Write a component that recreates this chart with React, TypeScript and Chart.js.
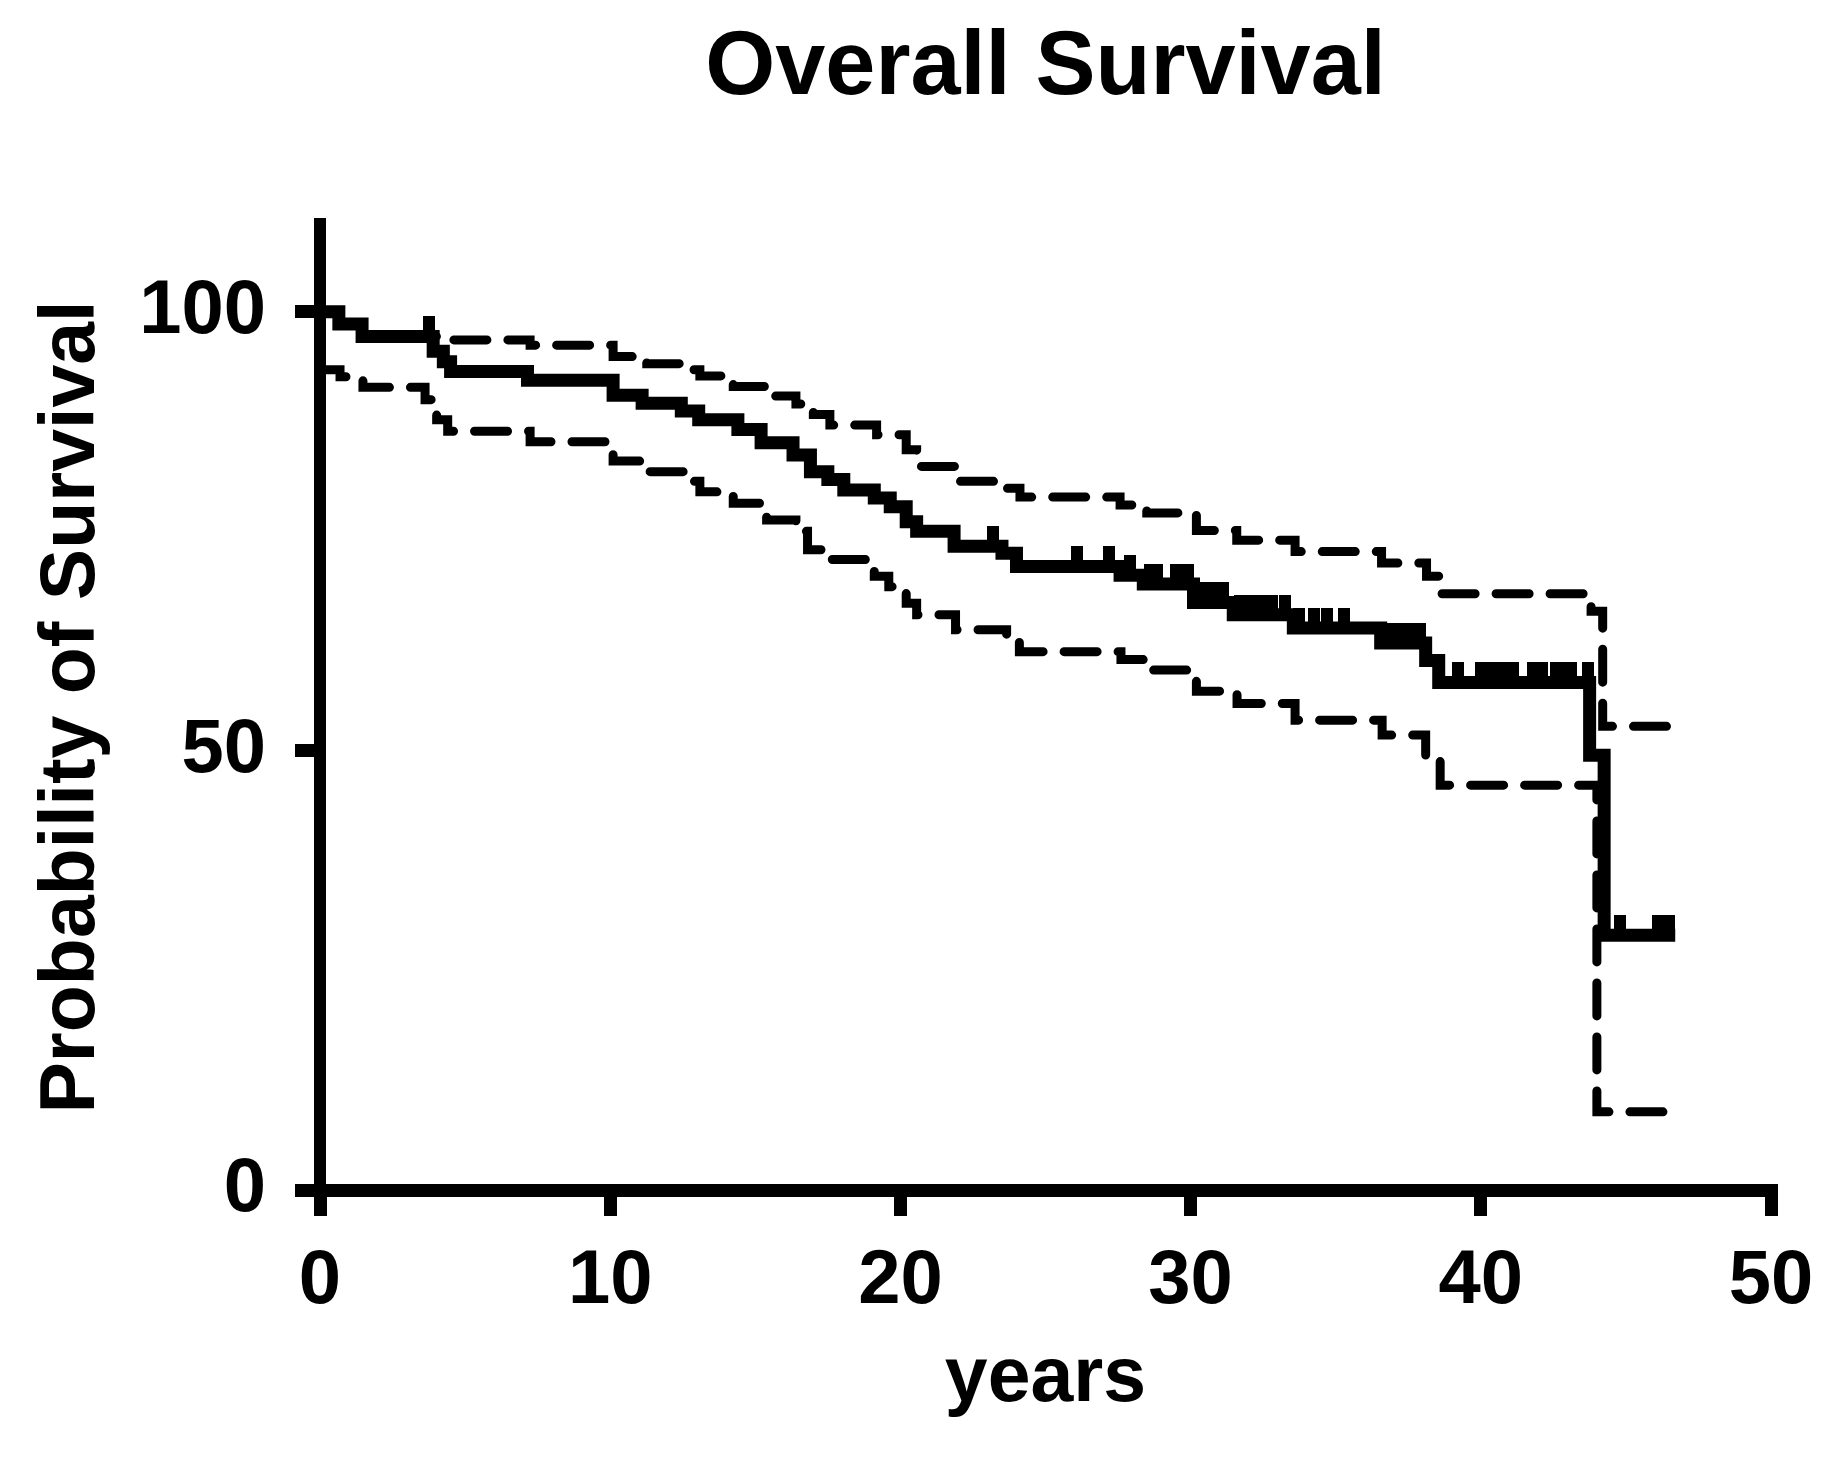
import React, { useEffect, useRef } from 'react';
import { Chart, registerables } from 'chart.js';

Chart.register(...registerables);

// ---- Data ----
const X_TICKS = [0, 10, 20, 30, 40, 50];
const Y_TICKS = [0, 50, 100];

// Kaplan-Meier estimate (time in years, survival in %)
const MAIN_T = [0, 0.65, 1.45, 3.9, 4.25, 4.5, 7.15, 10.1, 11.1, 12.45, 13.05, 14.4, 15.2, 16.3, 16.9, 17.5, 18.05, 19.1, 19.65, 20.2, 20.56, 21.85, 23.5, 24.0, 27.57, 28.37, 30.1, 31.47, 33.54, 36.55, 38.1, 38.55, 43.75, 44.25, 46.7];
const MAIN_S = [100, 98.6, 97.2, 95.5, 94.3, 93.2, 92.2, 90.5, 89.6, 88.7, 87.7, 86.6, 85.1, 83.7, 81.8, 80.9, 79.7, 78.8, 77.8, 76.1, 75.0, 73.3, 72.5, 71.0, 70.0, 69.0, 66.9, 65.5, 64.0, 62.3, 60.3, 57.8, 49.5, 29.0, 29.0];

// Upper 95% confidence limit
const UPPER_T = [0, 0.65, 1.45, 4.37, 7.24, 10.1, 11.26, 12.52, 13.09, 14.24, 15.39, 16.4, 17.0, 17.57, 19.18, 20.2, 20.56, 21.88, 23.66, 24.12, 27.57, 28.49, 30.2, 31.59, 33.6, 36.58, 38.13, 38.6, 43.8, 44.2, 46.7];
const UPPER_S = [100, 98.6, 97.2, 96.8, 96.2, 94.9, 94.1, 93.4, 92.7, 91.5, 90.4, 89.5, 88.3, 87.1, 86.0, 84.3, 82.4, 80.7, 79.9, 78.9, 78.0, 77.1, 75.1, 74.0, 72.7, 71.4, 69.9, 67.9, 65.9, 52.8, 52.8];

// Lower 95% confidence limit
const LOWER_T = [0, 0.69, 1.48, 3.62, 4.02, 4.4, 7.24, 10.1, 11.26, 12.52, 13.09, 14.24, 15.39, 16.4, 16.8, 17.6, 19.1, 19.6, 20.2, 20.56, 21.9, 23.66, 24.1, 27.6, 28.5, 30.2, 31.6, 33.6, 36.6, 38.1, 38.6, 44.0, 46.7];
const LOWER_S = [93.4, 92.6, 91.4, 90.0, 87.7, 86.4, 85.2, 83.0, 81.8, 80.7, 79.5, 78.2, 76.3, 75.0, 72.9, 71.8, 69.9, 68.7, 66.8, 65.5, 63.8, 62.6, 61.3, 60.4, 59.2, 56.8, 55.4, 53.5, 51.8, 49.0, 46.1, 8.9, 8.9];

// Censored observations (years)
const CENSOR_T = [3.75, 23.2, 26.1, 27.2, 27.9, 28.6, 28.85, 29.5, 29.9, 30.3, 30.7, 31.1, 31.7, 32.1, 32.5, 32.8, 33.25, 33.75, 34.25, 34.7, 35.3, 36.8, 37.2, 37.5, 37.9, 39.2, 40.0, 40.4, 40.8, 41.1, 41.8, 42.1, 42.6, 42.9, 43.1, 43.7, 44.8, 46.1, 46.5];

const FONT = "'Liberation Sans', Arial, Helvetica, sans-serif";

const toPoints = (T: number[], S: number[]) => T.map((t, i) => ({ x: t, y: S[i] }));
const stepValue = (t: number, T: number[], S: number[]) => {
  let v = S[0];
  for (let i = 0; i < T.length; i++) if (T[i] <= t) v = S[i];
  return v;
};

export default function App() {
  const ref = useRef<HTMLCanvasElement | null>(null);

  useEffect(() => {
    if (!ref.current) return;
    const tick = document.createElement('canvas');
    tick.width = 12;
    tick.height = 40;
    const tc = tick.getContext('2d');
    if (tc) {
      tc.fillStyle = '#000';
      tc.fillRect(0, 0, 12, 20);
    }

    const axisGrid = {
      display: true,
      drawOnChartArea: false,
      drawTicks: true,
      color: '#000',
      lineWidth: 13,
      tickWidth: 13,
      tickColor: '#000',
    };

    const ciStyle = {
      stepped: 'before',
      borderColor: '#000',
      borderWidth: 9,
      borderDash: [33, 21],
      borderCapStyle: 'round',
      borderJoinStyle: 'miter',
      pointRadius: 0,
      fill: false,
    };

    const chart = new Chart(ref.current, {
      type: 'line',
      data: {
        datasets: [
          {
            label: 'Overall survival',
            data: toPoints(MAIN_T, MAIN_S),
            stepped: 'before',
            borderColor: '#000',
            borderWidth: 13,
            borderJoinStyle: 'miter',
            borderCapStyle: 'butt',
            pointRadius: 0,
            fill: false,
          },
          { label: 'Upper 95% CI', data: toPoints(UPPER_T, UPPER_S), ...ciStyle },
          { label: 'Lower 95% CI', data: toPoints(LOWER_T, LOWER_S), ...ciStyle },
          {
            label: 'Censored',
            data: CENSOR_T.map((t) => ({ x: t, y: stepValue(t, MAIN_T, MAIN_S) })),
            showLine: false,
            pointStyle: tick,
            pointRadius: 10,
            pointHoverRadius: 10,
          },
        ],
      },
      options: {
        responsive: false,
        animation: false,
        devicePixelRatio: 1,
        events: [],
        layout: { padding: { top: 0, left: 0, right: 65, bottom: 0 } },
        plugins: {
          legend: { display: false },
          tooltip: { enabled: false },
          title: {
            display: true,
            text: 'Overall Survival',
            fullSize: false,
            color: '#000',
            font: { family: FONT, size: 90, weight: 'bold', lineHeight: 1.2 },
            padding: { top: 15, bottom: 101 },
          },
        },
        scales: {
          x: {
            type: 'linear',
            min: 0,
            max: 50,
            afterBuildTicks: (s: any) => {
              s.ticks = X_TICKS.map((v) => ({ value: v }));
            },
            afterFit: (s: any) => {
              s.height = 278;
            },
            grid: { ...axisGrid, tickLength: 26 },
            border: { display: true, width: 13, color: '#000' },
            ticks: {
              color: '#000',
              padding: 20,
              maxRotation: 0,
              font: { family: FONT, size: 76, weight: 'bold', lineHeight: 1.2 },
            },
            title: {
              display: true,
              text: 'years',
              color: '#000',
              font: { family: FONT, size: 77, weight: 'bold', lineHeight: 1.2 },
              padding: { top: 0, bottom: 42 },
            },
          },
          y: {
            type: 'linear',
            min: 0,
            max: 110,
            afterBuildTicks: (s: any) => {
              s.ticks = Y_TICKS.map((v) => ({ value: v }));
            },
            afterFit: (s: any) => {
              s.width = 320;
            },
            grid: { ...axisGrid, tickLength: 25 },
            border: { display: true, width: 12, color: '#000' },
            ticks: {
              color: '#000',
              padding: 29,
              font: { family: FONT, size: 76, weight: 'bold', lineHeight: 1.2 },
            },
            title: {
              display: true,
              text: 'Probability of Survival',
              color: '#000',
              font: { family: FONT, size: 77, weight: 'bold', lineHeight: 1.2 },
              padding: { top: 27, bottom: 0 },
            },
          },
        },
      },
    } as any);

    return () => chart.destroy();
  }, []);

  return (
    <div style={{ position: 'absolute', left: 0, top: 0, width: 1836, height: 1468, background: '#fff' }}>
      <canvas ref={ref} width={1836} height={1468} style={{ width: 1836, height: 1468, display: 'block' }} />
    </div>
  );
}
